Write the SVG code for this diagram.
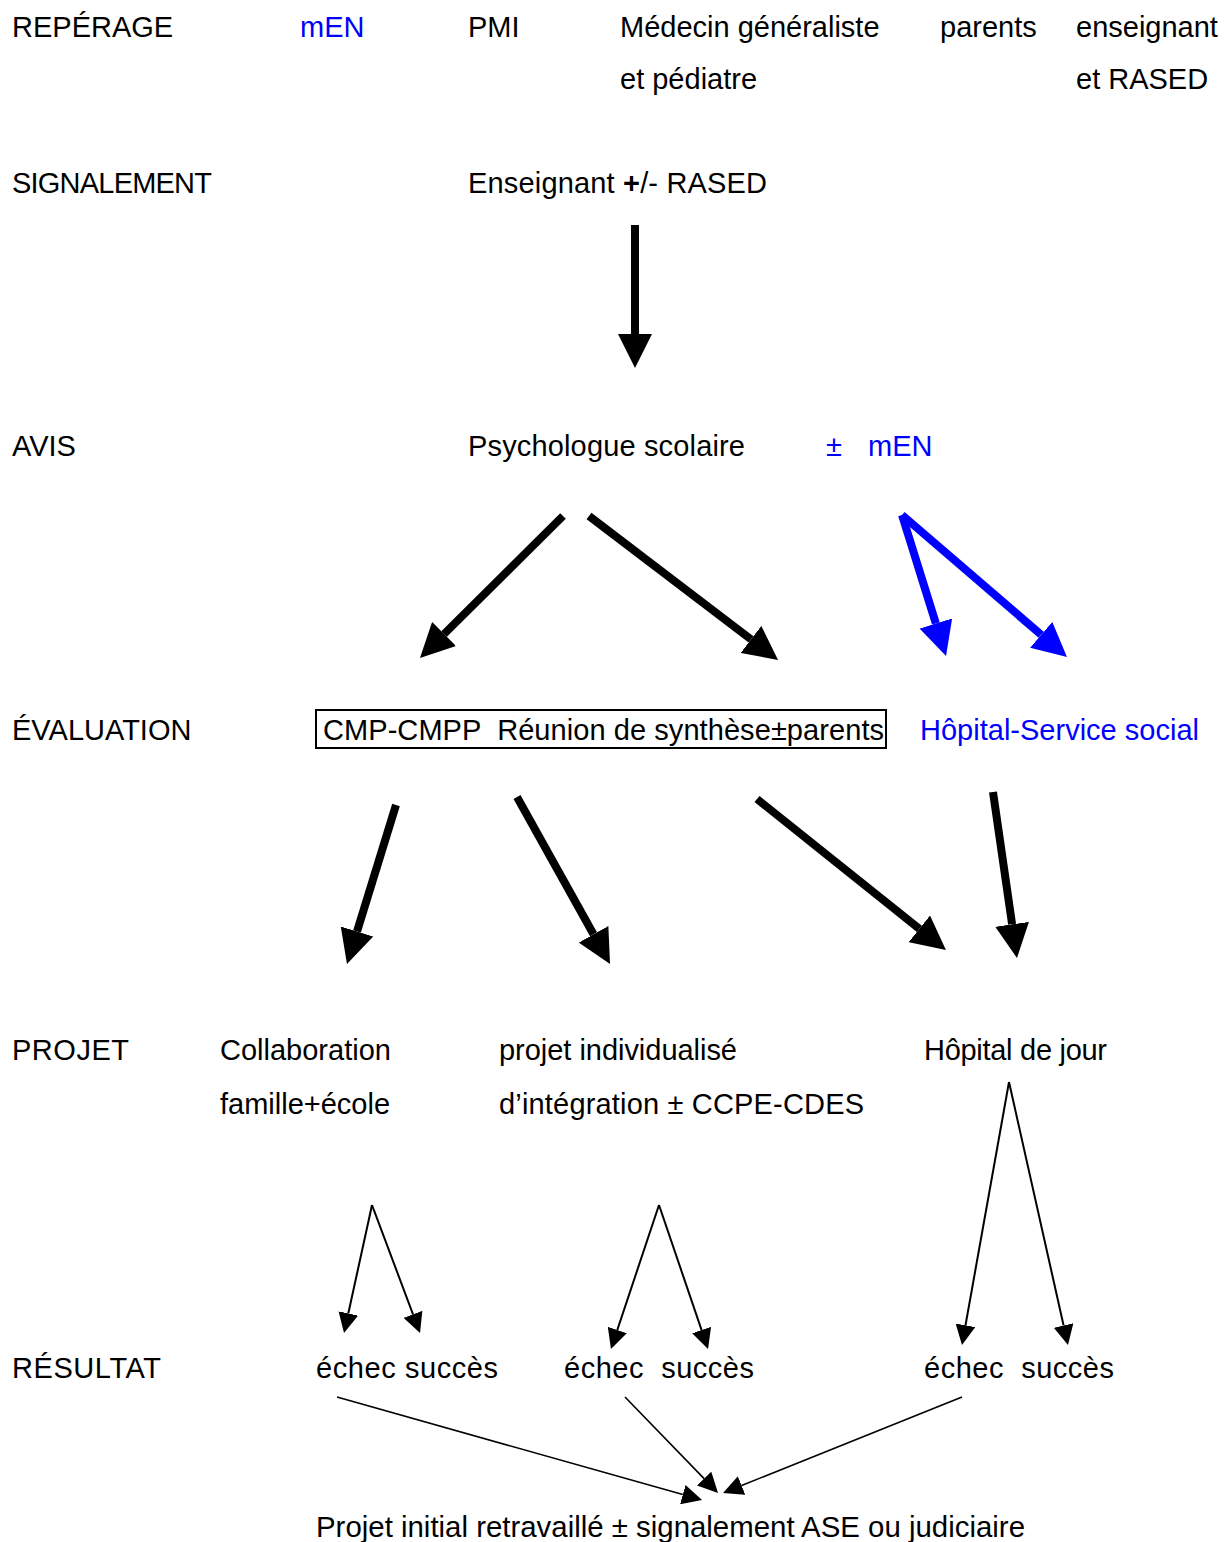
<svg xmlns="http://www.w3.org/2000/svg" width="1230" height="1542" viewBox="0 0 1230 1542">
<style>
text{font-family:"Liberation Sans",Arial,sans-serif;font-size:29px;fill:#000}
.b{fill:#0000ff}
.thick{stroke:#000;stroke-width:8;fill:none}
.blue{stroke:#0000ff;stroke-width:8;fill:none}
.thin{stroke:#000;stroke-width:2;fill:none}
.thin2{stroke:#000;stroke-width:1.6;fill:none}
</style>
<defs>
<marker id="hk" markerUnits="userSpaceOnUse" markerWidth="34" markerHeight="34" viewBox="0 0 34 34" refX="0" refY="17" orient="auto"><path d="M0,0 L34,17 L0,34 z" fill="#000"/></marker>
<marker id="hb" markerUnits="userSpaceOnUse" markerWidth="34" markerHeight="34" viewBox="0 0 34 34" refX="0" refY="17" orient="auto"><path d="M0,0 L34,17 L0,34 z" fill="#0000ff"/></marker>
<marker id="ht" markerUnits="userSpaceOnUse" markerWidth="20" markerHeight="20" viewBox="0 0 20 20" refX="0" refY="10" orient="auto"><path d="M0,0 L20,10 L0,20 z" fill="#000"/></marker>
</defs>

<g id="labels">
<text x="12" y="37">REPÉRAGE</text>
<text x="12" y="193" textLength="200">SIGNALEMENT</text>
<text x="12" y="456">AVIS</text>
<text x="12" y="740">ÉVALUATION</text>
<text x="12" y="1060" textLength="117">PROJET</text>
<text x="12" y="1378" textLength="149">RÉSULTAT</text>
</g>

<g id="reperage">
<text x="300" y="37" class="b">mEN</text>
<text x="468" y="37">PMI</text>
<text x="620" y="37">Médecin généraliste</text>
<text x="620" y="89">et pédiatre</text>
<text x="940" y="37">parents</text>
<text x="1076" y="37">enseignant</text>
<text x="1076" y="89">et RASED</text>
</g>

<g id="signalement"><text x="468" y="193" textLength="299">Enseignant <tspan font-weight="bold">+</tspan>/- RASED</text></g>

<g id="avis">
<text x="468" y="456" textLength="277">Psychologue scolaire</text>
<text x="826" y="456" class="b">±</text>
<text x="868" y="456" class="b">mEN</text>
</g>

<g id="evaluation">
<rect x="316" y="710" width="570" height="38" fill="none" stroke="#000" stroke-width="2"/>
<text x="323" y="740" xml:space="preserve" textLength="561">CMP-CMPP  Réunion de synthèse±parents</text>
</g>
<g id="hopital-social"><text x="920" y="740" class="b" textLength="279">Hôpital-Service social</text></g>

<g id="collaboration">
<text x="220" y="1060">Collaboration</text>
<text x="220" y="1114">famille+école</text>
</g>
<g id="projet-indiv">
<text x="499" y="1060" textLength="238">projet individualisé</text>
<text x="499" y="1114" textLength="365">d’intégration ± CCPE-CDES</text>
</g>
<g id="hopital-jour"><text x="924" y="1060" textLength="183">Hôpital de jour</text></g>

<g id="resultat1"><text x="316" y="1378" textLength="182">échec succès</text></g>
<g id="resultat2"><text x="564" y="1378" xml:space="preserve" textLength="190">échec  succès</text></g>
<g id="resultat3"><text x="924" y="1378" xml:space="preserve" textLength="190">échec  succès</text></g>

<g id="final"><text x="316" y="1537" textLength="709" lengthAdjust="spacingAndGlyphs">Projet initial retravaillé ± signalement ASE ou judiciaire</text></g>

<g id="connectors">
<line class="thick" x1="635" y1="225" x2="635" y2="334" marker-end="url(#hk)"/>
<line class="thick" x1="563" y1="516" x2="444.1" y2="634" marker-end="url(#hk)"/>
<line class="thick" x1="589" y1="516" x2="751" y2="639.4" marker-end="url(#hk)"/>
<line class="blue" x1="902" y1="515" x2="935.9" y2="623.5" marker-end="url(#hb)"/>
<line class="blue" x1="902" y1="515" x2="1041.2" y2="634.8" marker-end="url(#hb)"/>
<line class="thick" x1="396" y1="805" x2="357" y2="931.5" marker-end="url(#hk)"/>
<line class="thick" x1="517" y1="797" x2="593.5" y2="934.3" marker-end="url(#hk)"/>
<line class="thick" x1="757" y1="799" x2="919.4" y2="928.8" marker-end="url(#hk)"/>
<line class="thick" x1="993" y1="792" x2="1012.1" y2="924.3" marker-end="url(#hk)"/>

<line class="thin" x1="372" y1="1205" x2="348.3" y2="1313.5" marker-end="url(#ht)"/>
<line class="thin" x1="372" y1="1205" x2="413" y2="1314.3" marker-end="url(#ht)"/>
<line class="thin" x1="659" y1="1205" x2="617.3" y2="1330" marker-end="url(#ht)"/>
<line class="thin" x1="659" y1="1205" x2="701.6" y2="1330.1" marker-end="url(#ht)"/>
<line class="thin" x1="1009" y1="1082" x2="965.5" y2="1325.3" marker-end="url(#ht)"/>
<line class="thin" x1="1009" y1="1082" x2="1063.6" y2="1325.5" marker-end="url(#ht)"/>

<line class="thin2" x1="337" y1="1397" x2="682.8" y2="1494.6" marker-end="url(#ht)"/>
<line class="thin2" x1="625" y1="1397" x2="704.1" y2="1478.6" marker-end="url(#ht)"/>
<line class="thin2" x1="962" y1="1397" x2="741.6" y2="1485.5" marker-end="url(#ht)"/>
</g>
</svg>
